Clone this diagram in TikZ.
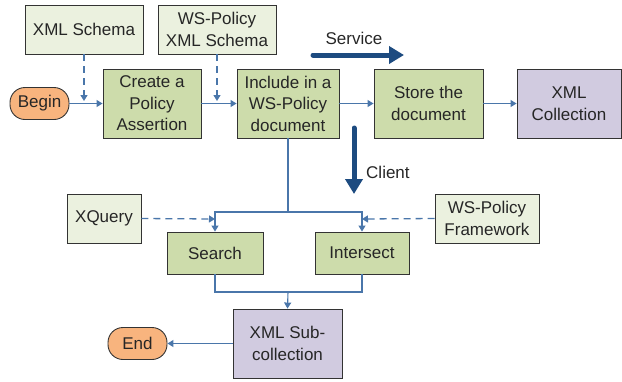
\documentclass[tikz,border=0pt]{standalone}
\usepackage{fontspec}
\setmainfont{Liberation Sans}
\usetikzlibrary{arrows.meta}
\definecolor{boxgreen}{HTML}{CDDCAB}
\definecolor{lightgreen}{HTML}{EBF1DF}
\definecolor{boxpurple}{HTML}{D1CBE0}
\definecolor{boxorange}{HTML}{F8B47E}
\definecolor{linkblue}{HTML}{4A76AA}
\definecolor{bigblue}{HTML}{1D4B80}
\definecolor{edge}{HTML}{333333}
\definecolor{txt}{HTML}{262626}
\tikzset{
  base/.style={draw=edge, line width=0.9pt, align=center, inner sep=1pt, text=txt,
    font=\fontsize{17}{21.5}\selectfont},
  proc/.style={base, fill=boxgreen, minimum width=#1, minimum height=69pt},
  small/.style={base, fill=boxgreen, minimum width=#1, minimum height=42pt},
  input/.style={base, fill=lightgreen, minimum width=#1, minimum height=49pt},
  store/.style={base, fill=boxpurple, minimum width=#1, minimum height=69pt},
  term/.style={base, fill=boxorange, rounded corners=15pt, minimum width=59pt, minimum height=32pt},
  link/.style={draw=linkblue, line width=1.1pt},
  linkarrow/.style={link, -{Triangle[length=6pt,width=7pt]}},
  dasharrow/.style={linkarrow, dashed, dash pattern=on 7pt off 5pt, line width=1.3pt},
  bigarrow/.style={draw=bigblue, line width=5pt, line cap=round, -{Triangle[length=15pt,width=17pt]}},
  lbl/.style={text=txt, font=\fontsize{17}{19}\selectfont, inner sep=0pt}
}
\begin{document}
\begin{tikzpicture}[x=1pt,y=-1pt]
\useasboundingbox (0,0) rectangle (622,381);
% nodes
\node[input=118pt] (xmls) at (84,29.5) {XML Schema};
\node[input=118pt] (wsxs) at (217,29.5) {WS-Policy\\XML Schema};
\node[term] (begin) at (39.5,103.5) {Begin};
\node[proc=98pt] (create) at (152,103.5) {Create a\\Policy\\Assertion};
\node[proc=102pt] (include) at (288,103.5) {Include in a\\WS-Policy\\document};
\node[proc=109pt] (storedoc) at (428.5,103.5) {Store the\\document};
\node[store=104pt] (coll) at (569,103.5) {XML\\Collection};
\node[input=74pt] (xq) at (104,218.5) {XQuery};
\node[small=96pt] (search) at (215,253) {Search};
\node[small=94pt] (inter) at (362,253) {Intersect};
\node[input=104pt] (wsf) at (487,218.5) {WS-Policy\\Framework};
\node[store=109pt] (sub) at (287.5,343.5) {XML Sub-\\collection};
\node[term] (endn) at (137.5,343.5) {End};
% labels
\node[lbl] (service) at (354,38) {Service};
\node[lbl, anchor=west] (client) at (366,172) {Client};
% helper coordinates
\coordinate (s1) at (313,55);
\coordinate (s2) at (404,55);
\coordinate (c1) at (354,128);
\coordinate (c2) at (354,194);
\coordinate (d1) at (84,101);
\coordinate (d2) at (217,101);
\coordinate (j) at (288,212);
\coordinate (k) at (288,292);
\coordinate (q) at (215,219);
\coordinate (w) at (362,219);
% top row
\draw[linkarrow] (begin) -- (create);
\draw[linkarrow] (create) -- (include);
\draw[linkarrow] (include) -- (storedoc);
\draw[linkarrow] (storedoc) -- (coll);
\draw[dasharrow] (xmls.south) -- (d1);
\draw[dasharrow] (wsxs.south) -- (d2);
% big arrows
\draw[bigarrow] (s1) -- (s2);
\draw[bigarrow] (c1) -- (c2);
% client branch
\draw[link] (include.south) -- (j);
\draw[linkarrow] (j) -| (search.north);
\draw[linkarrow] (j) -| (inter.north);
\draw[dasharrow] (xq.east) -- (q);
\draw[dasharrow] (wsf.west) -- (w);
\draw[link] (search.south) |- (k);
\draw[link] (inter.south) |- (k);
\draw[linkarrow] (k) -- (sub.north);
\draw[linkarrow] (sub.west) -- (endn.east);
\end{tikzpicture}
\end{document}
